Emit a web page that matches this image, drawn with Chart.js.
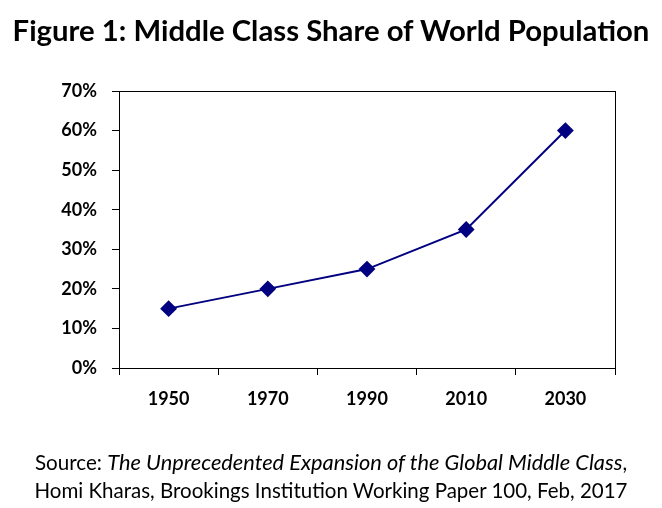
<!DOCTYPE html>
<html>
<head>
<meta charset="utf-8">
<script src="https://cdn.jsdelivr.net/npm/chart.js@4.4.1/dist/chart.umd.min.js"></script>
<style>
  html, body { margin:0; padding:0; background:#fff; }
  #wrap { position:relative; width:662px; height:508px; overflow:hidden; }
  #c { position:absolute; left:0; top:0; }
  .title { position:absolute; left:0; top:11px; width:662px; text-align:center;
           font-family:Lato, "Open Sans", sans-serif; font-weight:bold; font-size:29.3px; color:#000; line-height:38px; }
  .src { position:absolute; left:0; width:662px; text-align:center;
         font-family:Lato, "Open Sans", sans-serif; color:#000; line-height:28px; white-space:nowrap; }
</style>
</head>
<body>
<div id="wrap">
  <canvas id="c" width="662" height="508"></canvas>
  <div class="title">Figure 1: Middle Class Share of World Population</div>
  <div class="src" style="top:448px;font-size:20.6px">Source: <i style="font-size:21.8px">The Unprecedented Expansion of the Global Middle Class</i>,</div>
  <div class="src" style="top:476px;font-size:20.5px">Homi Kharas, Brookings Institution Working Paper 100, Feb, 2017</div>
</div>
<script>
const categories = ['1950', '1970', '1990', '2010', '2030'];
const middleClassShare = [15, 20, 25, 35, 60];
const yTicks = [0, 10, 20, 30, 40, 50, 60, 70];

const frame = {
  id: 'frame',
  afterDraw(chart) {
    const a = chart.chartArea, ctx = chart.ctx;
    ctx.save();
    ctx.strokeStyle = '#000';
    ctx.lineWidth = 1;
    ctx.strokeRect(Math.round(a.left) + 0.5, Math.round(a.top) + 0.5, Math.round(a.right - a.left), Math.round(a.bottom - a.top));
    ctx.restore();
  }
};

const tickFont = { family: 'Lato, "Open Sans", sans-serif', size: 18, weight: 'bold' };

new Chart(document.getElementById('c'), {
  type: 'line',
  data: {
    labels: categories,
    datasets: [{
      data: middleClassShare,
      borderColor: '#000080',
      backgroundColor: '#000080',
      borderWidth: 2,
      pointStyle: 'rectRot',
      pointRadius: 7,
      pointHoverRadius: 7,
      tension: 0,
      fill: false
    }]
  },
  options: {
    responsive: false,
    animation: false,
    events: [],
    layout: { padding: { top: 91, right: 47, left: 0, bottom: 0 } },
    plugins: { legend: { display: false }, tooltip: { enabled: false }, title: { display: false } },
    scales: {
      x: {
        type: 'category',
        offset: true,
        grid: { display: true, offset: true, drawOnChartArea: false, drawTicks: true, tickLength: 7, color: '#000', lineWidth: 1 },
        border: { display: true, color: '#000', width: 1 },
        ticks: { color: '#000', font: tickFont, padding: 13, maxRotation: 0 },
        afterFit(s) { s.height = 140; }
      },
      y: {
        min: 0, max: 70,
        afterBuildTicks(s) { s.ticks = yTicks.map(v => ({ value: v })); },
        grid: { display: true, drawOnChartArea: false, drawTicks: true, tickLength: 7, color: '#000', lineWidth: 1 },
        border: { display: true, color: '#000', width: 1 },
        ticks: { color: '#000', font: tickFont, padding: 15, callback: v => v + '%' },
        afterFit(s) { s.width = 119; }
      }
    }
  },
  plugins: [frame]
});
</script>
</body>
</html>
